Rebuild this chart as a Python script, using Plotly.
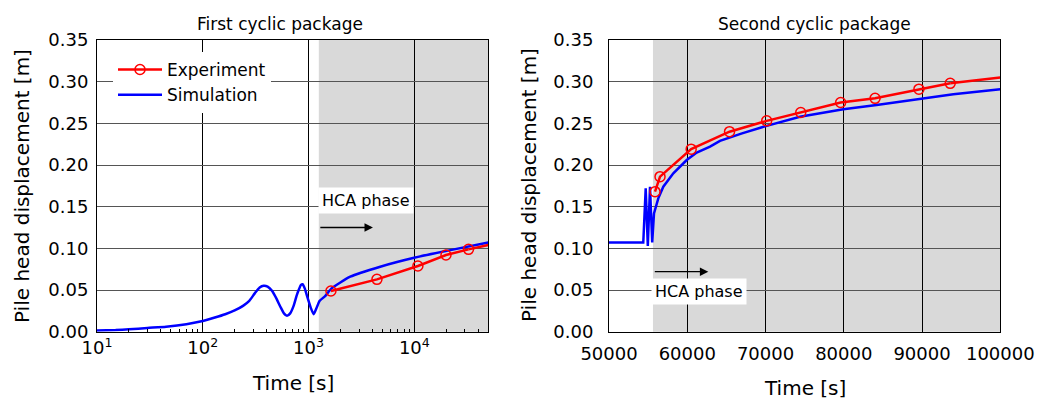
import plotly.graph_objects as go
import math

# ---------------- data ----------------
# First cyclic package (log time axis)
sim1_t = [10, 15, 20, 30, 45, 70, 100, 130, 163, 200, 240, 275, 310, 345, 376, 410, 451,
          500, 541, 585, 625, 670, 722, 770, 806, 845, 879, 920, 967, 1054, 1117, 1202,
          1274, 1441, 1649, 2478, 4760, 10170, 20200, 50000]
sim1_u = [0.0015, 0.002, 0.0028, 0.0045, 0.006, 0.009, 0.0128, 0.017, 0.021, 0.0255,
          0.031, 0.037, 0.046, 0.053, 0.055, 0.054, 0.049, 0.039, 0.030, 0.022, 0.019,
          0.022, 0.031, 0.043, 0.050, 0.056, 0.057, 0.052, 0.043, 0.028, 0.021, 0.030,
          0.037, 0.043, 0.052, 0.066, 0.078, 0.089, 0.097, 0.107]
exp1_t = [1627, 4430, 10800, 19900, 32500]
exp1_u = [0.0488, 0.0628, 0.0788, 0.092, 0.0988]
exp1_end_t = [32500, 50000]
exp1_end_u = [0.0988, 0.104]

# Second cyclic package (linear time axis)
sim2_t = [50000, 54380, 54690, 54960, 55240, 55520, 55750, 56300, 56940, 58220, 59930,
          61210, 62910, 64180, 67000, 70150, 74400, 79940, 84200, 89740, 94000, 100000]
sim2_u = [0.107, 0.107, 0.172, 0.103, 0.174, 0.107, 0.142, 0.160, 0.174, 0.190, 0.206,
          0.215, 0.222, 0.229, 0.238, 0.247, 0.258, 0.267, 0.272, 0.279, 0.285, 0.291]
exp2_t = [55880, 56520, 60500, 65400, 70150, 74500, 79600, 84000, 89600, 93600]
exp2_u = [0.168, 0.186, 0.219, 0.240, 0.253, 0.263, 0.275, 0.280, 0.291, 0.298]
exp2_end_t = [93600, 100000]
exp2_end_u = [0.298, 0.305]

hca1_start = 1250
hca2_start = 55620

x1_ticks = [10, 100, 1000, 10000]
x1_ticktext = ["10<sup>1</sup>", "10<sup>2</sup>", "10<sup>3</sup>", "10<sup>4</sup>"]
x2_ticks = [50000, 60000, 70000, 80000, 90000, 100000]
y_ticks = [0.0, 0.05, 0.10, 0.15, 0.20, 0.25, 0.30, 0.35]

# --------------- figure ---------------
OFF = 0                      # page body margin removed by post_script below
W, H = 1037 - OFF, 399 - OFF
FONT = "DejaVu Sans"
RED = "#ff0000"
BLUE = "#0000ff"


def fx(p):
    return (p - OFF) / W


def fy(p):
    return 1 - (p - OFF) / H


fig = go.Figure()

fig.add_trace(go.Scatter(x=sim1_t, y=sim1_u, mode="lines", name="Simulation",
                         line=dict(color=BLUE, width=2.5, shape="spline", smoothing=0.5),
                         xaxis="x", yaxis="y", legendrank=2))
fig.add_trace(go.Scatter(x=exp1_t, y=exp1_u, mode="lines+markers", name="Experiment",
                         line=dict(color=RED, width=2.5),
                         marker=dict(symbol="circle-open", size=10, color=RED,
                                     line=dict(width=1.5, color=RED)),
                         xaxis="x", yaxis="y", legendrank=1))
fig.add_trace(go.Scatter(x=exp1_end_t, y=exp1_end_u, mode="lines", showlegend=False,
                         line=dict(color=RED, width=2.5), xaxis="x", yaxis="y"))

fig.add_trace(go.Scatter(x=sim2_t, y=sim2_u, mode="lines", showlegend=False,
                         line=dict(color=BLUE, width=2.5), xaxis="x2", yaxis="y2"))
fig.add_trace(go.Scatter(x=exp2_t, y=exp2_u, mode="lines+markers", showlegend=False,
                         line=dict(color=RED, width=2.5),
                         marker=dict(symbol="circle-open", size=10, color=RED,
                                     line=dict(width=1.5, color=RED)),
                         xaxis="x2", yaxis="y2"))
fig.add_trace(go.Scatter(x=exp2_end_t, y=exp2_end_u, mode="lines", showlegend=False,
                         line=dict(color=RED, width=2.5), xaxis="x2", yaxis="y2"))

minor_vals = [m * 10 ** e for e in range(1, 5) for m in range(2, 10) if m * 10 ** e <= 50000]

ydom = [fy(331.7), fy(40)]
common_y = dict(range=[0, 0.35], tickvals=y_ticks, tickformat=".2f", automargin=False,
                showline=True, mirror=True, linecolor="black", linewidth=1,
                showgrid=True, gridcolor="#555555", gridwidth=1, zeroline=False,
                tickfont=dict(family=FONT, size=18, color="black"),
                tickcolor="rgba(0,0,0,0)", ticks="outside")

fig.update_layout(
    template="none",
    width=W, height=H,
    margin=dict(l=0, r=0, t=0, b=0, autoexpand=False),
    paper_bgcolor="white", plot_bgcolor="white",
    font=dict(family=FONT, color="black"),
    xaxis=dict(type="log", domain=[fx(97), fx(488.3)], range=[1, math.log10(50000)],
               automargin=False,
               tickmode="array", tickvals=x1_ticks, ticktext=x1_ticktext,
               showline=True, mirror=True, linecolor="black", linewidth=1,
               showgrid=True, gridcolor="black", gridwidth=1, zeroline=False,
               ticks="inside", ticklen=5, tickcolor="black",
               minor=dict(tickmode="array", tickvals=minor_vals, ticks="inside",
                          ticklen=3, tickcolor="black", showgrid=False),
               tickfont=dict(family=FONT, size=18, color="black"), anchor="y"),
    yaxis=dict(domain=ydom, anchor="x", ticklen=4, **common_y),
    xaxis2=dict(domain=[fx(609), fx(1000.3)], range=[50000, 100000], automargin=False,
                tickvals=x2_ticks, tickformat="d",
                showline=True, mirror=True, linecolor="black", linewidth=1,
                showgrid=True, gridcolor="black", gridwidth=1, zeroline=False,
                ticks="outside", ticklen=6, tickcolor="rgba(0,0,0,0)",
                tickfont=dict(family=FONT, size=18, color="black"), anchor="y2"),
    yaxis2=dict(domain=ydom, anchor="x2", ticklen=11, **common_y),
    legend=dict(x=fx(113), y=fy(52), xanchor="left", yanchor="top",
                bgcolor="white", borderwidth=0,
                font=dict(family=FONT, size=17, color="black"),
                itemwidth=44, tracegroupgap=0),
    shapes=[
        dict(type="rect", xref="x", yref="y domain", x0=hca1_start, x1=50000, y0=0, y1=1,
             fillcolor="#d9d9d9", line=dict(width=0), layer="below"),
        dict(type="rect", xref="x2", yref="y2 domain", x0=hca2_start, x1=100000, y0=0, y1=1,
             fillcolor="#d9d9d9", line=dict(width=0), layer="below"),
    ],
)

ann = []


def label(text, xp, yp, size, angle=0):
    ann.append(dict(text=text, x=fx(xp), y=fy(yp), xref="paper", yref="paper",
                    xanchor="center", yanchor="middle", textangle=angle, showarrow=False,
                    font=dict(family=FONT, size=size, color="black")))


# subplot titles
label("First cyclic package", 280, 24, 17)
label("Second cyclic package", 814.5, 24, 17)
# axis titles
label("Time [s]", 292.5, 383, 20)
label("Time [s]", 805, 388, 20)
label("Pile head displacement [m]", 22, 186, 20, -90)
label("Pile head displacement [m]", 529, 185, 20, -90)

# HCA phase labels
ann.append(dict(text="HCA phase", x=3.542, y=0.157, xref="x", yref="y", showarrow=False,
                xanchor="center", yanchor="middle",
                bgcolor="white", borderpad=3, font=dict(family=FONT, size=16, color="black")))
ann.append(dict(text="", x=math.log10(4060), y=0.125, ax=math.log10(hca1_start), ay=0.125,
                xref="x", yref="y", axref="x", ayref="y", showarrow=True,
                arrowhead=2, arrowsize=1.3, arrowwidth=1.3, arrowcolor="black"))
ann.append(dict(text="HCA phase", x=61500, y=0.0488, xref="x2", yref="y2", showarrow=False,
                xanchor="center", yanchor="middle",
                bgcolor="white", borderpad=3, font=dict(family=FONT, size=16, color="black")))
ann.append(dict(text="", x=62690, y=0.072, ax=55660, ay=0.072,
                xref="x2", yref="y2", axref="x2", ayref="y2", showarrow=True,
                arrowhead=2, arrowsize=1.3, arrowwidth=1.3, arrowcolor="black"))
fig.update_layout(annotations=ann)

fig.write_html("out.html",
               config={"displayModeBar": False},
               post_script="document.body.style.margin='0';"
                           "document.body.style.overflow='hidden';")
